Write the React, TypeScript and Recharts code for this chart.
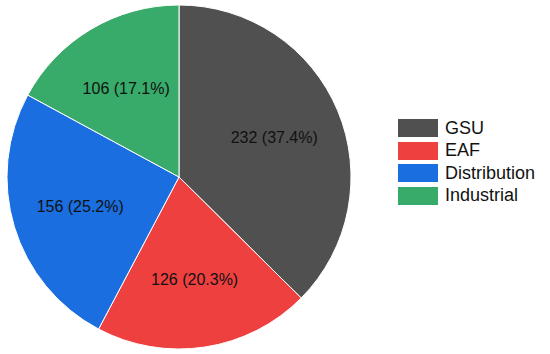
import React from 'react';
import { PieChart, Pie, Cell, Legend } from 'recharts';

const categories = ['GSU', 'EAF', 'Distribution', 'Industrial'];
const counts = [232, 126, 156, 106];
const COLORS = ['#505050', '#EF4040', '#1A6EDF', '#38AB6A'];

const data = categories.map((name, i) => ({ name, value: counts[i] }));

const RADIAN = Math.PI / 180;

function renderLabel(props: any) {
  const { cx, cy, midAngle, outerRadius, percent, value } = props;
  const r = outerRadius * 0.6;
  const x = cx + r * Math.cos(-midAngle * RADIAN);
  const y = cy + r * Math.sin(-midAngle * RADIAN);
  return (
    <text
      x={x}
      y={y}
      fill="#111"
      textAnchor="middle"
      dominantBaseline="central"
      fontSize={16}
      fontFamily="'Liberation Sans', Arial, sans-serif"
    >
      {`${value} (${(percent * 100).toFixed(1)}%)`}
    </text>
  );
}

function renderLegend() {
  return (
    <div style={{ fontFamily: "'Liberation Sans', Arial, sans-serif" }}>
      {categories.map((c, i) => (
        <div key={c} style={{ display: 'flex', alignItems: 'center', height: 22.5 }}>
          <div style={{ width: 40, height: 18, background: COLORS[i], marginRight: 7 }} />
          <span style={{ fontSize: 18, color: '#111' }}>{c}</span>
        </div>
      ))}
    </div>
  );
}

export default function App() {
  return (
    <div style={{ position: 'absolute', left: 0, top: 0, background: '#fff' }}>
      <PieChart width={550} height={354} margin={{ top: 0, right: 0, bottom: 0, left: 0 }}>
        <Pie
          data={data}
          dataKey="value"
          nameKey="name"
          cx={179}
          cy={177}
          outerRadius={172}
          startAngle={90}
          endAngle={-270}
          stroke="#fff"
          strokeWidth={1}
          label={renderLabel}
          labelLine={false}
          isAnimationActive={false}
        >
          {data.map((d, i) => (
            <Cell key={d.name} fill={COLORS[i]} />
          ))}
        </Pie>
        <Legend
          layout="vertical"
          content={renderLegend}
          wrapperStyle={{ left: 398, top: 117, width: 150 }}
        />
      </PieChart>
    </div>
  );
}
